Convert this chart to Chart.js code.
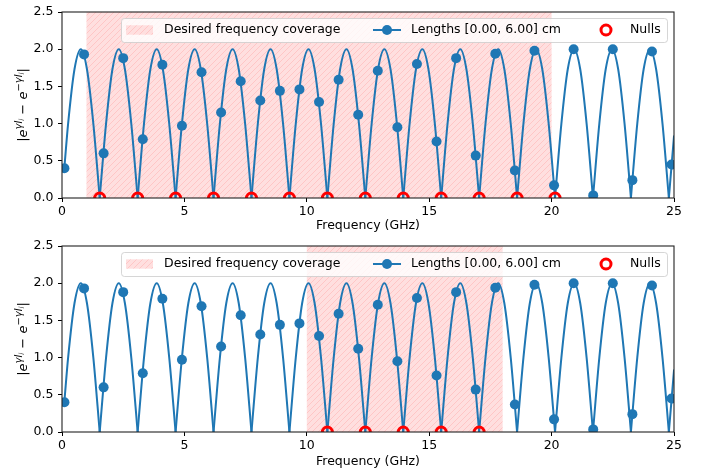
<!DOCTYPE html>
<html>
<head>
<meta charset="utf-8">
<script src="https://cdn.jsdelivr.net/npm/chart.js@4.4.0/dist/chart.umd.min.js"></script>
<style>
    html, body { margin: 0; padding: 0; background: #fff; }
    #wrap { position: relative; width: 702px; height: 475px; overflow: hidden; }
    canvas { position: absolute; left: 0; }
    #chartTop { top: 0; }
    #chartBottom { top: 234px; }
</style>
</head>
<body>
<div id="wrap">
    <canvas id="chartTop" width="702" height="240"></canvas>
    <canvas id="chartBottom" width="702" height="241"></canvas>
</div>
<script>
;(() => {
    const FONT = '"DejaVu Sans", sans-serif'
    const BLUE = '#1f77b4'

    // |e^{γl} - e^{-γl}|, one row per lobe (null, quarter points, peak)
    const curveFreq = [
        0.10, 0.25, 0.51, 0.77, 1.02, 1.28,
        1.54, 1.80, 2.06, 2.32, 2.57, 2.83,
        3.09, 3.35, 3.61, 3.87, 4.12, 4.38,
        4.64, 4.90, 5.16, 5.42, 5.67, 5.93,
        6.19, 6.45, 6.71, 6.97, 7.22, 7.48,
        7.74, 8.00, 8.26, 8.52, 8.77, 9.03,
        9.29, 9.55, 9.81, 10.07, 10.32, 10.58,
        10.84, 11.10, 11.36, 11.62, 11.87, 12.13,
        12.39, 12.65, 12.91, 13.17, 13.42, 13.68,
        13.94, 14.20, 14.46, 14.72, 14.97, 15.23,
        15.49, 15.75, 16.01, 16.27, 16.52, 16.78,
        17.04, 17.30, 17.56, 17.82, 18.07, 18.33,
        18.59, 18.85, 19.11, 19.37, 19.62, 19.88,
        20.14, 20.40, 20.66, 20.92, 21.17, 21.43,
        21.69, 21.95, 22.21, 22.47, 22.72, 22.98,
        23.24, 23.50, 23.76, 24.02, 24.27, 24.53,
        24.79, 25.00,
    ]
    const curveMag = [
        0.42, 1.00, 1.73, 2.00, 1.73, 1.00,
        0, 1.00, 1.73, 2.00, 1.73, 1.00,
        0, 1.00, 1.73, 2.00, 1.73, 1.00,
        0, 1.00, 1.73, 2.00, 1.73, 1.00,
        0, 1.00, 1.73, 2.00, 1.73, 1.00,
        0, 1.00, 1.73, 2.00, 1.73, 1.00,
        0, 1.00, 1.73, 2.00, 1.73, 1.00,
        0, 1.00, 1.73, 2.00, 1.73, 1.00,
        0, 1.00, 1.73, 2.00, 1.73, 1.00,
        0, 1.00, 1.73, 2.00, 1.73, 1.00,
        0, 1.00, 1.73, 2.00, 1.73, 1.00,
        0, 1.00, 1.73, 2.00, 1.73, 1.00,
        0, 1.00, 1.73, 2.00, 1.73, 1.00,
        0, 1.00, 1.73, 2.00, 1.73, 1.00,
        0, 1.00, 1.73, 2.00, 1.73, 1.00,
        0, 1.00, 1.73, 2.00, 1.73, 1.00,
        0, 0.83,
    ]

    // marked lengths on the curve
    const markerFreq = [
        0.1, 0.9, 1.7, 2.5, 3.3, 4.1, 4.9, 5.7, 6.5, 7.3, 8.1, 8.9, 9.7, 10.5, 11.3, 12.1,
        12.9, 13.7, 14.5, 15.3, 16.1, 16.9, 17.7, 18.5, 19.3, 20.1, 20.9, 21.7, 22.5, 23.3, 24.1, 24.9,
    ]
    const markerMag = [
        0.40, 1.93, 0.60, 1.88, 0.79, 1.79, 0.97, 1.69, 1.15, 1.57, 1.31, 1.44, 1.46, 1.29, 1.59, 1.12,
        1.71, 0.95, 1.80, 0.76, 1.88, 0.57, 1.94, 0.37, 1.98, 0.17, 2.00, 0.035, 2.00, 0.24, 1.97, 0.45,
    ]

    const topNulls = [1.54, 3.09, 4.64, 6.19, 7.74, 9.29, 10.84, 12.39, 13.94, 15.49, 17.04, 18.59, 20.14]
    const bottomNulls = [10.84, 12.39, 13.94, 15.49, 17.04]
    const topCoverage = [1, 20]
    const bottomCoverage = [10, 18]

    const xTicks = [0, 5, 10, 15, 20, 25]
    const yTicks = [0, 0.5, 1.0, 1.5, 2.0, 2.5]
    const legendLabels = ['Desired frequency coverage', 'Lengths [0.00, 6.00] cm', 'Nulls']

    const makeHatch = () => {
        const c = document.createElement('canvas')
        c.width = 6
        c.height = 6
        const g = c.getContext('2d')
        g.fillStyle = '#ffdfdf'
        g.fillRect(0, 0, 6, 6)
        g.strokeStyle = '#ffc6c6'
        g.lineWidth = 1
        g.beginPath()
        g.moveTo(-1, 7); g.lineTo(7, -1)
        g.moveTo(-1, 1); g.lineTo(1, -1)
        g.moveTo(5, 7); g.lineTo(7, 5)
        g.stroke()
        return c
    }
    const hatchTile = makeHatch()

    // split the curve into lobes at the nulls so the V bottoms stay sharp
    const lobes = () => {
        const out = []
        let seg = []
        curveFreq.forEach((f, i) => {
            const pt = { x: f, y: curveMag[i] }
            seg.push(pt)
            if (curveMag[i] === 0 && seg.length > 1) {
                out.push(seg)
                seg = [pt]
            }
        })
        if (seg.length > 1) out.push(seg)
        return out
    }

    const drawLegend = (ctx, a) => {
        const cy = a.top + 18
        const left = a.right - 7 - 546
        ctx.save()
        ctx.beginPath()
        ctx.roundRect(left + 0.5, cy - 11.5, 546, 24, 3)
        ctx.fillStyle = 'rgba(255,255,255,0.8)'
        ctx.fill()
        ctx.strokeStyle = 'rgba(204,204,204,0.8)'
        ctx.lineWidth = 1
        ctx.stroke()

        ctx.fillStyle = ctx.createPattern(hatchTile, 'repeat')
        ctx.fillRect(left + 5, cy - 4.7, 27, 9.4)

        ctx.strokeStyle = BLUE
        ctx.lineWidth = 2
        ctx.beginPath()
        ctx.moveTo(left + 252, cy)
        ctx.lineTo(left + 280, cy)
        ctx.stroke()
        ctx.fillStyle = BLUE
        ctx.beginPath()
        ctx.arc(left + 266, cy, 5, 0, Math.PI * 2)
        ctx.fill()

        ctx.strokeStyle = '#ff0000'
        ctx.lineWidth = 3
        ctx.beginPath()
        ctx.arc(left + 485, cy, 5, 0, Math.PI * 2)
        ctx.stroke()

        ctx.fillStyle = '#000'
        ctx.font = `12.5px ${FONT}`
        ctx.textBaseline = 'middle'
        ctx.fillText(legendLabels[0], left + 43, cy)
        ctx.fillText(legendLabels[1], left + 290, cy)
        ctx.fillText(legendLabels[2], left + 509, cy)
        ctx.restore()
    }

    const drawYLabel = (ctx, a) => {
        const parts = [
            ['|', `13px ${FONT}`, 0],
            ['e', `italic 13px ${FONT}`, 0],
            ['γl', `italic 10px ${FONT}`, -5.5],
            ['i', `italic 7px ${FONT}`, -3.5],
            [' − ', `13px ${FONT}`, 0],
            ['e', `italic 13px ${FONT}`, 0],
            ['−γl', `italic 10px ${FONT}`, -5.5],
            ['i', `italic 7px ${FONT}`, -3.5],
            ['|', `13px ${FONT}`, 0],
        ]
        ctx.save()
        let total = 0
        const widths = parts.map(([t, f]) => {
            ctx.font = f
            const w = ctx.measureText(t).width
            total += w
            return w
        })
        ctx.translate(27, (a.top + a.bottom) / 2)
        ctx.rotate(-Math.PI / 2)
        ctx.fillStyle = '#000'
        ctx.textBaseline = 'alphabetic'
        let x = -total / 2
        parts.forEach(([t, f, dy], i) => {
            ctx.font = f
            ctx.fillText(t, x, dy)
            x += widths[i]
        })
        ctx.restore()
    }

    const extras = {
        id: 'extras',
        beforeDatasetsDraw(chart, args, opts) {
            const { ctx, chartArea: a, scales: { x } } = chart
            const x0 = x.getPixelForValue(opts.coverage[0])
            const x1 = x.getPixelForValue(opts.coverage[1])
            ctx.save()
            ctx.fillStyle = ctx.createPattern(hatchTile, 'repeat')
            ctx.fillRect(x0, a.top, x1 - x0, a.bottom - a.top)
            ctx.restore()
        },
        afterDatasetsDraw(chart) {
            const { ctx, chartArea: a } = chart
            ctx.save()
            ctx.strokeStyle = '#222'
            ctx.lineWidth = 1.1
            ctx.strokeRect(a.left, a.top, a.right - a.left, a.bottom - a.top)
            ctx.restore()
            drawLegend(ctx, a)
            drawYLabel(ctx, a)
        },
    }

    const renderPanel = (id, nulls, coverage, xAxisHeight, titlePad) => {
        const datasets = [
            {
                label: legendLabels[2],
                data: nulls.map((f) => ({ x: f, y: 0 })),
                pointRadius: 5,
                pointBorderWidth: 3,
                pointBorderColor: '#ff0000',
                pointBackgroundColor: 'rgba(0,0,0,0)',
                showLine: false,
                clip: 0,
            },
            {
                label: legendLabels[1],
                data: markerFreq.map((f, i) => ({ x: f, y: markerMag[i] })),
                pointRadius: 5,
                pointBorderWidth: 0,
                pointBackgroundColor: BLUE,
                showLine: false,
                clip: 0,
            },
            ...lobes().map((seg) => ({
                data: seg,
                showLine: true,
                borderColor: BLUE,
                borderWidth: 2,
                pointRadius: 0,
                cubicInterpolationMode: 'monotone',
                borderCapStyle: 'round',
                borderJoinStyle: 'round',
                clip: 0,
            })),
        ]

        new Chart(document.getElementById(id), {
            type: 'scatter',
            data: { datasets },
            plugins: [extras],
            options: {
                responsive: false,
                animation: false,
                events: [],
                layout: { padding: { left: 0, right: 28, top: 9, bottom: 0 } },
                plugins: {
                    legend: { display: false },
                    tooltip: { enabled: false },
                    extras: { coverage },
                },
                scales: {
                    x: {
                        type: 'linear',
                        min: 0,
                        max: 25,
                        afterBuildTicks: (s) => { s.ticks = xTicks.map((v) => ({ value: v })) },
                        afterFit: (s) => { s.height = xAxisHeight },
                        grid: { drawOnChartArea: false, drawTicks: true, tickLength: 4, tickColor: '#000', tickWidth: 1 },
                        border: { display: false },
                        ticks: { color: '#000', padding: 2.5, maxRotation: 0, font: { family: FONT, size: 12.5 } },
                        title: {
                            display: true,
                            text: 'Frequency (GHz)',
                            color: '#000',
                            font: { family: FONT, size: 12.5 },
                            padding: { top: 0, bottom: titlePad },
                        },
                    },
                    y: {
                        type: 'linear',
                        min: 0,
                        max: 2.5,
                        afterBuildTicks: (s) => { s.ticks = yTicks.map((v) => ({ value: v })) },
                        afterFit: (s) => { s.width = 62 },
                        grid: { drawOnChartArea: false, drawTicks: true, tickLength: 4, tickColor: '#000', tickWidth: 1 },
                        border: { display: false },
                        ticks: {
                            color: '#000',
                            padding: 4.5,
                            font: { family: FONT, size: 12.5 },
                            callback: (v) => v.toFixed(1),
                        },
                    },
                },
            },
        })
    }

    renderPanel('chartTop', topNulls, topCoverage, 42, 6.8)
    renderPanel('chartBottom', bottomNulls, bottomCoverage, 43, 6)
})()
</script>
</body>
</html>
